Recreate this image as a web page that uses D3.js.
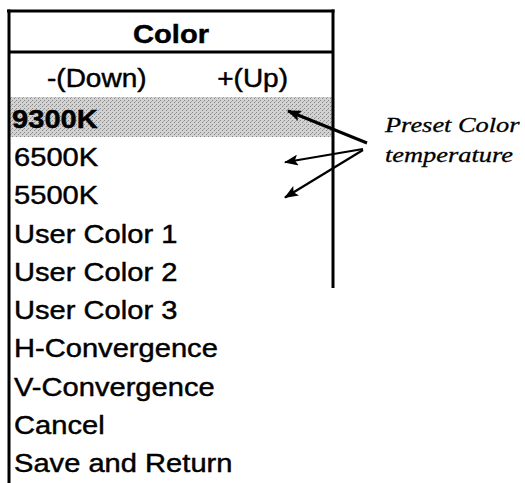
<!DOCTYPE html>
<html>
<head>
<meta charset="utf-8">
<script src="https://cdn.jsdelivr.net/npm/d3@7/dist/d3.min.js"></script>
<style>
  html, body { margin: 0; padding: 0; background: #fff; }
  svg { display: block; }
</style>
</head>
<body>
<script>
// ---- data ----
const menuTitle = "Color";
const adjustLabels = ["-(Down)", "+(Up)"];
const menuItems = ["9300K", "6500K", "5500K", "User Color 1", "User Color 2", "User Color 3",
                   "H-Convergence", "V-Convergence", "Cancel", "Save and Return"];
const presetItems = ["9300K", "6500K", "5500K"];
const selectedItem = "9300K";
const annotationLines = ["Preset Color", "temperature"];

// ---- layout ----
const W = 525, H = 483;
const box = { left: 9, right: 333, top: 11, sep: 52, rightEnd: 288 };
const stretchSans = 1.12, stretchSerif = 1.2;

const svg = d3.select("body").append("svg").attr("width", W).attr("height", H);

const y = d3.scalePoint().domain(menuItems).range([128, 472]);
const x = d3.scaleLinear().domain([0, 1]).range([box.left, box.right]);

// dithered-looking highlight pattern
const defs = svg.append("defs");
const pat = defs.append("pattern").attr("id", "dither").attr("patternUnits", "userSpaceOnUse")
  .attr("width", 4).attr("height", 4);
pat.append("rect").attr("width", 4).attr("height", 4).attr("fill", "#d2d2d2");
pat.append("rect").attr("x", 0).attr("y", 0).attr("width", 1).attr("height", 1).attr("fill", "#888");
pat.append("rect").attr("x", 2).attr("y", 2).attr("width", 1).attr("height", 1).attr("fill", "#888");
pat.append("rect").attr("x", 3).attr("y", 1).attr("width", 1).attr("height", 1).attr("fill", "#aaa");

svg.append("rect")
  .attr("x", x(0) + 1).attr("y", y(selectedItem) - 31)
  .attr("width", x(1) - x(0) - 2).attr("height", 40)
  .attr("fill", "url(#dither)");

// borders
svg.append("line").attr("x1", x(0) - 2).attr("x2", x(1) + 1.5).attr("y1", box.top).attr("y2", box.top)
  .attr("stroke", "#000").attr("stroke-width", 3);
svg.append("line").attr("x1", x(0)).attr("x2", x(1)).attr("y1", box.sep).attr("y2", box.sep)
  .attr("stroke", "#000").attr("stroke-width", 3);
svg.append("line").attr("x1", x(0)).attr("x2", x(0)).attr("y1", box.top - 1.5).attr("y2", H)
  .attr("stroke", "#000").attr("stroke-width", 3);
svg.append("line").attr("x1", x(1)).attr("x2", x(1)).attr("y1", box.top - 1.5).attr("y2", box.rightEnd)
  .attr("stroke", "#000").attr("stroke-width", 3);

function sansText(sel, tx, ty, size, weight, anchor) {
  return sel.attr("transform", `translate(${tx},${ty}) scale(${stretchSans},1)`)
    .attr("font-family", "'Liberation Sans', Arial, sans-serif")
    .attr("font-size", size).attr("font-weight", weight)
    .attr("text-anchor", anchor || "start").attr("fill", "#000")
    .attr("stroke", "#000").attr("stroke-width", 0.45);
}

// title
sansText(svg.append("text").text(menuTitle), (x(0) + x(1)) / 2, 43, 26, "bold", "middle");

// adjust labels
sansText(svg.append("text").text(adjustLabels[0]), 47, 87, 25, "normal", "start");
sansText(svg.append("text").text(adjustLabels[1]), 288, 87, 25, "normal", "end");

// menu items
svg.selectAll("text.item").data(menuItems).enter().append("text")
  .attr("class", "item")
  .text(d => d)
  .each(function(d) {
    sansText(d3.select(this), d === selectedItem ? 12 : 14, y(d), 26, d === selectedItem ? "bold" : "normal", "start");
  });

// arrows
defs.append("marker").attr("id", "ah").attr("viewBox", "0 0 14 11")
  .attr("refX", 13).attr("refY", 5.5).attr("markerWidth", 15).attr("markerHeight", 11)
  .attr("markerUnits", "userSpaceOnUse").attr("orient", "auto")
  .append("path").attr("d", "M0,0 L14,5.5 L0,11 L3,5.5 Z").attr("fill", "#000");

const origins = { "9300K": [367, 143], "6500K": [363, 149], "5500K": [363, 150] };
const tipOffsets = { "9300K": -17, "6500K": -4, "5500K": -7 };
svg.selectAll("line.arrow").data(presetItems).enter().append("line")
  .attr("class", "arrow")
  .attr("x1", d => origins[d][0]).attr("y1", d => origins[d][1])
  .attr("x2", d => d === selectedItem ? 288 : 285)
  .attr("y2", d => y(d) + tipOffsets[d])
  .attr("stroke", "#000")
  .attr("stroke-width", d => d === selectedItem ? 3 : 2.2)
  .attr("marker-end", "url(#ah)");

// annotation text
svg.selectAll("text.note").data(annotationLines).enter().append("text")
  .attr("class", "note")
  .text(d => d)
  .attr("transform", (d, i) => `translate(385,${132 + i * 30}) scale(${stretchSerif},1)`)
  .attr("font-family", "'Liberation Serif', 'Times New Roman', serif")
  .attr("font-style", "italic").attr("font-size", 22).attr("fill", "#000")
  .attr("stroke", "#000").attr("stroke-width", 0.3);
</script>
</body>
</html>
